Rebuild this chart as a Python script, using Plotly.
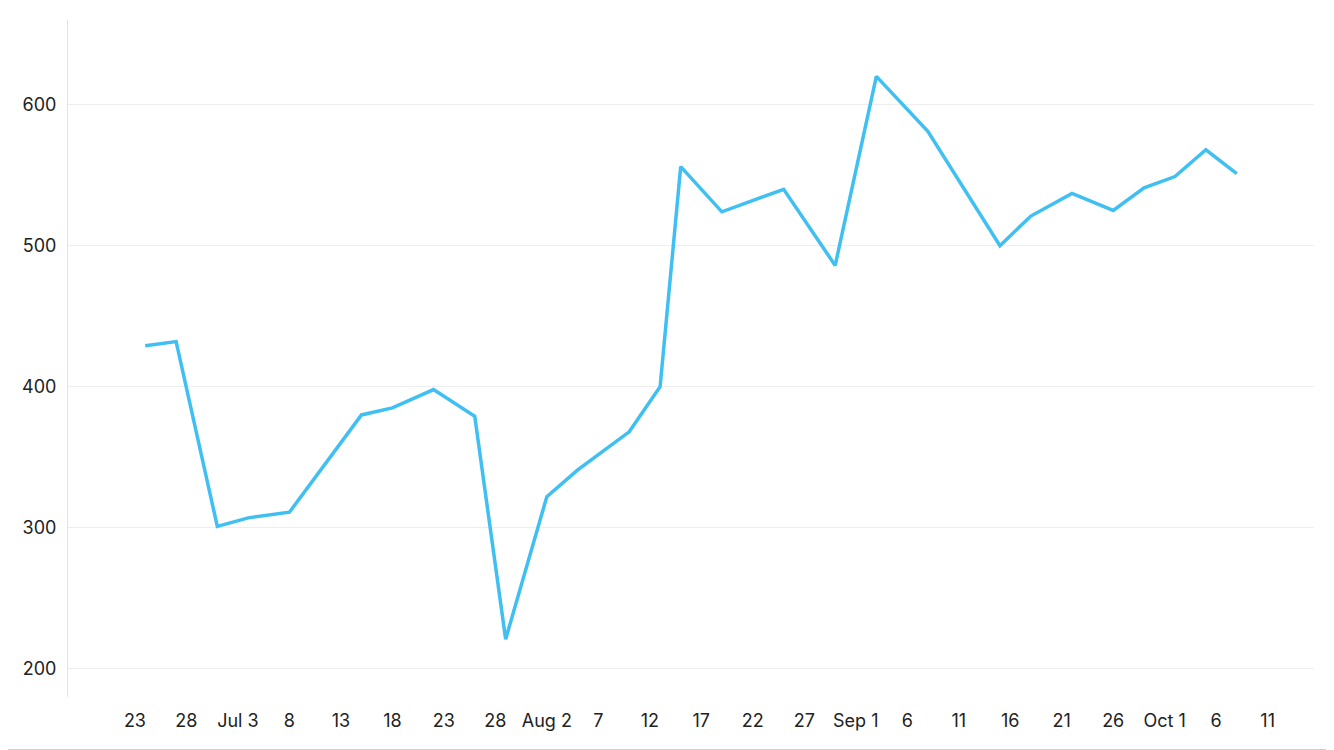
import plotly.graph_objects as go

dates = ["2024-06-24", "2024-06-27", "2024-07-01", "2024-07-04", "2024-07-08",
         "2024-07-15", "2024-07-18", "2024-07-22", "2024-07-26", "2024-07-29",
         "2024-08-02", "2024-08-05", "2024-08-10", "2024-08-13", "2024-08-15",
         "2024-08-19", "2024-08-25", "2024-08-30", "2024-09-03", "2024-09-08",
         "2024-09-15", "2024-09-18", "2024-09-22", "2024-09-26", "2024-09-29",
         "2024-10-02", "2024-10-05", "2024-10-08"]
values = [429, 432, 301, 307, 311,
          380, 385, 398, 379, 221,
          322, 341, 368, 400, 556,
          524, 540, 486, 620, 581,
          500, 521, 537, 525, 541,
          549, 568, 551]

x_tick_vals = ["2024-06-23", "2024-06-28", "2024-07-03", "2024-07-08", "2024-07-13",
               "2024-07-18", "2024-07-23", "2024-07-28", "2024-08-02", "2024-08-07",
               "2024-08-12", "2024-08-17", "2024-08-22", "2024-08-27", "2024-09-01",
               "2024-09-06", "2024-09-11", "2024-09-16", "2024-09-21", "2024-09-26",
               "2024-10-01", "2024-10-06", "2024-10-11"]
x_tick_text = ["23", "28", "Jul 3", "8", "13", "18", "23", "28", "Aug 2", "7",
               "12", "17", "22", "27", "Sep 1", "6", "11", "16", "21", "26",
               "Oct 1", "6", "11"]
y_tick_vals = [200, 300, 400, 500, 600]

fig = go.Figure()
fig.add_trace(go.Scatter(
    x=dates, y=values, mode="lines",
    line=dict(color="#40BFF2", width=3.5),
    hoverinfo="x+y",
))

# the page body has an 8px margin, so the figure is 8px smaller than the window
W, H = 1326, 742
L, R, T, B = 60, 20, 12, 53
pw, ph = W - L - R, H - T - B

fig.update_layout(
    width=W, height=H,
    margin=dict(l=L, r=R, t=T, b=B, pad=0),
    paper_bgcolor="white", plot_bgcolor="white",
    font=dict(family="Inter", size=18, color="#222222"),
    showlegend=False,
    shapes=[
        dict(type="line", xref="paper", yref="paper",
             x0=(W - 0.5 - L) / pw, x1=(W - 0.5 - L) / pw,
             y0=(H - B - (H - 0.5)) / ph, y1=(H - B) / ph + 0.05,
             line=dict(color="#CFCFCF", width=1)),
        dict(type="line", xref="paper", yref="paper",
             x0=-L / pw, x1=(W - L) / pw,
             y0=(H - B - (H - 0.5)) / ph, y1=(H - B - (H - 0.5)) / ph,
             line=dict(color="#CFCFCF", width=1)),
    ],
    xaxis=dict(
        type="date",
        range=["2024-06-16 12:00", "2024-10-15 12:00"],
        tickvals=x_tick_vals, ticktext=x_tick_text,
        showgrid=False, zeroline=False, showline=False,
        ticks="outside", ticklen=7, tickcolor="rgba(0,0,0,0)",
        tickfont=dict(size=18, color="#222222"),
    ),
    yaxis=dict(
        range=[180, 660],
        tickvals=y_tick_vals,
        showgrid=True, gridcolor="#EEEEEE", gridwidth=1,
        zeroline=False, showline=True, linecolor="#E3E3E3", linewidth=1,
        ticks="outside", ticklen=7, tickcolor="rgba(0,0,0,0)",
        tickfont=dict(size=18, color="#222222"),
    ),
)

fig.write_html("out.html")
